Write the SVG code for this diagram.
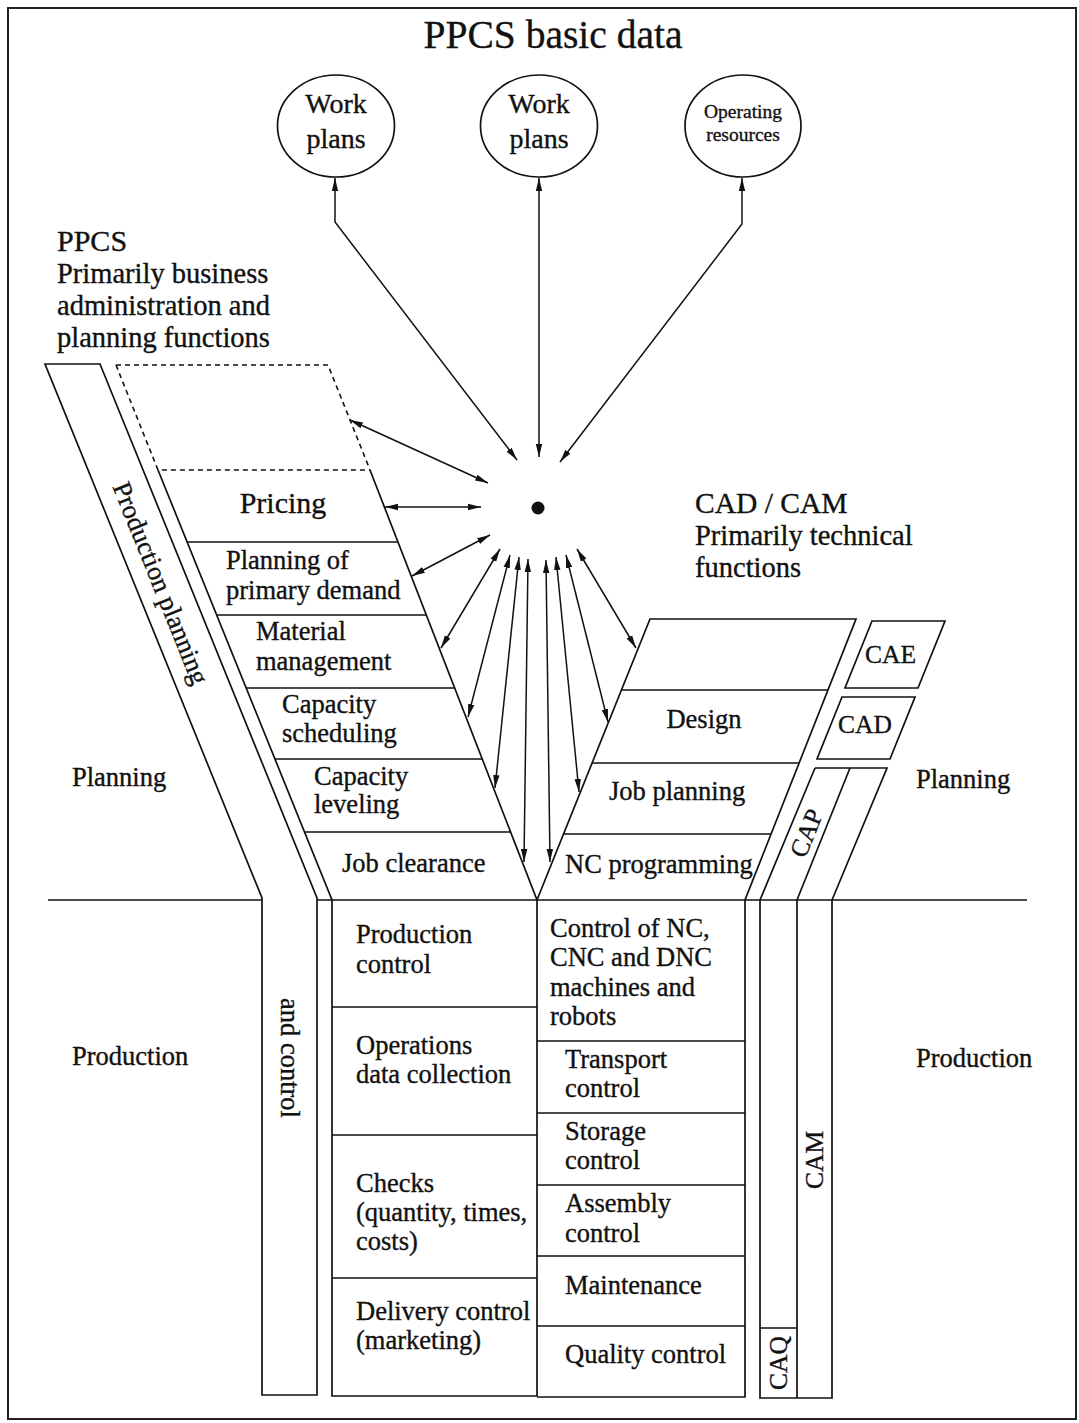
<svg xmlns="http://www.w3.org/2000/svg" width="1079" height="1423" viewBox="0 0 1079 1423">
  <style>
    .ln { fill: none; stroke: #111; stroke-width: 1.7; stroke-linejoin: miter; }
    .dash { fill: none; stroke: #111; stroke-width: 1.6; stroke-dasharray: 5 4; }
    .arr { fill: none; stroke: #111; stroke-width: 1.5; marker-start: url(#ah); marker-end: url(#ah); }
    text { font-family: "Liberation Serif", "Times New Roman", serif; fill: #111; stroke: #111; stroke-width: 0.35; }
    .t { font-size: 26.5px; }
    .h { font-size: 28.5px; }
    .c { text-anchor: middle; }
  </style>
  <defs>
    <marker id="ah" markerUnits="userSpaceOnUse" markerWidth="14" markerHeight="8" refX="13" refY="4" orient="auto-start-reverse">
      <path d="M0,0.8 L13,4 L0,7.2 Z" fill="#111"/>
    </marker>
  </defs>

  <rect x="0" y="0" width="1079" height="1423" fill="#fff"/>
  <!-- outer frame -->
  <rect x="8" y="8" width="1068" height="1411" fill="none" stroke="#222" stroke-width="2"/>

  <!-- headings -->
  <text x="553" y="48" class="c" style="font-size:39.5px">PPCS basic data</text>
  <g id="ppcs-heading">
    <text x="57" y="251" style="font-size:30px">PPCS</text>
    <text x="57" y="283" class="h">Primarily business</text>
    <text x="57" y="315" class="h">administration and</text>
    <text x="57" y="347" class="h">planning functions</text>
  </g>
  <g id="cadcam-heading">
    <text x="695" y="513" style="font-size:29.5px">CAD / CAM</text>
    <text x="695" y="545" class="h">Primarily technical</text>
    <text x="695" y="577" class="h">functions</text>
  </g>

  <!-- basic data stores -->
  <g id="work-plans-1">
    <ellipse cx="336" cy="126" rx="58.5" ry="51" class="ln"/>
    <text x="336" y="113" class="c" style="font-size:28px">Work</text>
    <text x="336" y="148" class="c" style="font-size:28px">plans</text>
  </g>
  <g id="work-plans-2">
    <ellipse cx="539" cy="126" rx="58.5" ry="51" class="ln"/>
    <text x="539" y="113" class="c" style="font-size:28px">Work</text>
    <text x="539" y="148" class="c" style="font-size:28px">plans</text>
  </g>
  <g id="operating-resources">
    <ellipse cx="743" cy="126" rx="58" ry="51" class="ln"/>
    <text x="743" y="118" class="c" style="font-size:19.5px">Operating</text>
    <text x="743" y="141" class="c" style="font-size:19.5px">resources</text>
  </g>

  <!-- central hub -->
  <g id="hub">
    <circle cx="538" cy="508" r="6.5" fill="#111"/>
  </g>

  <!-- phase labels -->
  <g id="phase-labels">
    <text x="72" y="786" class="t">Planning</text>
    <text x="72" y="1065" class="t">Production</text>
    <text x="916" y="788" class="t">Planning</text>
    <text x="916" y="1067" class="t">Production</text>
  </g>

  <!-- production / planning boundary -->
  <g id="boundary">
    <path class="ln" d="M48,900 L262,900 M317,900 L1027,900"/>
  </g>

  <!-- PPCS strip: production planning and control -->
  <g id="ppcs-strip">
    <path class="ln" d="M45,364 L100,364 L317,898 L317,1395 L262,1395 L262,898 Z"/>
    <text transform="translate(161,583) rotate(68)" y="9" class="t c">Production planning</text>
    <text transform="translate(289.5,1058) rotate(90)" y="9" class="t c">and control</text>
  </g>

  <!-- PPCS planning functions -->
  <g id="ppcs-planning">
    <path class="dash" d="M116,365 L328,365 L370,470 M116,365 L158,470 L370,470"/>
    <path class="ln" d="M158,470 L332,900 L332,1396 L537,1396 L537,900 L370,470"/>
    <path class="ln" d="M187,542 L398,542 M217,615 L426,615 M246,688 L455,688 M275,759 L482,759 M304,832 L511,832"/>
  </g>
  <g id="pricing"><text x="283" y="513" class="c" style="font-size:30px">Pricing</text></g>
  <g id="primary-demand">
    <text x="226" y="569" class="t">Planning of</text>
    <text x="226" y="599" class="t">primary demand</text>
  </g>
  <g id="material-management">
    <text x="256" y="640" class="t">Material</text>
    <text x="256" y="670" class="t">management</text>
  </g>
  <g id="capacity-scheduling">
    <text x="282" y="713" class="t">Capacity</text>
    <text x="282" y="742" class="t">scheduling</text>
  </g>
  <g id="capacity-leveling">
    <text x="314" y="785" class="t">Capacity</text>
    <text x="314" y="813" class="t">leveling</text>
  </g>
  <g id="job-clearance"><text x="342" y="872" class="t">Job clearance</text></g>

  <!-- PPCS production functions -->
  <g id="ppcs-production">
    <path class="ln" d="M332,1007 L537,1007 M332,1135 L537,1135 M332,1278 L537,1278"/>
  </g>
  <g id="production-control">
    <text x="356" y="943" class="t">Production</text>
    <text x="356" y="973" class="t">control</text>
  </g>
  <g id="operations-data">
    <text x="356" y="1054" class="t">Operations</text>
    <text x="356" y="1083" class="t">data collection</text>
  </g>
  <g id="checks">
    <text x="356" y="1192" class="t">Checks</text>
    <text x="356" y="1221" class="t">(quantity, times,</text>
    <text x="356" y="1250" class="t">costs)</text>
  </g>
  <g id="delivery-control">
    <text x="356" y="1320" class="t">Delivery control</text>
    <text x="356" y="1349" class="t">(marketing)</text>
  </g>

  <!-- CAD/CAM planning functions -->
  <g id="cad-planning">
    <path class="ln" d="M537,900 L650,619 L856,619 L745,900 L745,1397 L537,1397"/>
    <path class="ln" d="M621,690 L828,690 M592,763 L799,763 M564,834 L771,834"/>
  </g>
  <g id="design"><text x="704" y="728" class="t c">Design</text></g>
  <g id="job-planning"><text x="609" y="800" class="t">Job planning</text></g>
  <g id="nc-programming"><text x="565" y="873" class="t">NC programming</text></g>

  <!-- CAD/CAM production functions -->
  <g id="cam-production">
    <path class="ln" d="M537,1041 L745,1041 M537,1113 L745,1113 M537,1185 L745,1185 M537,1256 L745,1256 M537,1326 L745,1326"/>
  </g>
  <g id="machine-control">
    <text x="550" y="937" class="t">Control of NC,</text>
    <text x="550" y="966" class="t">CNC and DNC</text>
    <text x="550" y="996" class="t">machines and</text>
    <text x="550" y="1025" class="t">robots</text>
  </g>
  <g id="transport-control">
    <text x="565" y="1068" class="t">Transport</text>
    <text x="565" y="1097" class="t">control</text>
  </g>
  <g id="storage-control">
    <text x="565" y="1140" class="t">Storage</text>
    <text x="565" y="1169" class="t">control</text>
  </g>
  <g id="assembly-control">
    <text x="565" y="1212" class="t">Assembly</text>
    <text x="565" y="1242" class="t">control</text>
  </g>
  <g id="maintenance"><text x="565" y="1294" class="t">Maintenance</text></g>
  <g id="quality-control"><text x="565" y="1363" class="t">Quality control</text></g>

  <!-- CA* system bands -->
  <g id="cae">
    <path class="ln" d="M872,621 L945,621 L918,688 L845,688 Z"/>
    <text x="865" y="663" style="font-size:25.5px">CAE</text>
  </g>
  <g id="cad">
    <path class="ln" d="M842,697 L915,697 L890,759 L817,759 Z"/>
    <text x="838" y="733" style="font-size:25.5px">CAD</text>
  </g>
  <g id="cap">
    <path class="ln" d="M815,768 L887,768 L832,900 M815,768 L760,900 M850,768 L797,900"/>
    <text transform="translate(806,833) rotate(-68)" y="9" class="c" style="font-size:25.5px">CAP</text>
  </g>
  <g id="cam">
    <path class="ln" d="M760,900 L760,1398 L832,1398 L832,900 M797,900 L797,1398"/>
    <text transform="translate(814,1160) rotate(-90)" y="9" class="c" style="font-size:25.5px">CAM</text>
  </g>
  <g id="caq">
    <path class="ln" d="M760,1328 L797,1328"/>
    <text transform="translate(778,1363) rotate(-90)" y="9" class="c" style="font-size:25.5px">CAQ</text>
  </g>

  <!-- data flows to and from the hub -->
  <g id="connectors">
    <polyline class="arr" points="335,178 335,222 517,460"/>
    <line class="arr" x1="539" y1="178" x2="539" y2="457"/>
    <polyline class="arr" points="742,178 742,224 560,462"/>
    <line class="arr" x1="350" y1="420" x2="488" y2="483"/>
    <line class="arr" x1="385" y1="507" x2="481" y2="507"/>
    <line class="arr" x1="412" y1="576" x2="490" y2="535"/>
    <line class="arr" x1="441" y1="648" x2="500" y2="549"/>
    <line class="arr" x1="468" y1="717" x2="510" y2="555"/>
    <line class="arr" x1="495" y1="788" x2="519" y2="557"/>
    <line class="arr" x1="524" y1="862" x2="528" y2="559"/>
    <line class="arr" x1="550" y1="862" x2="546" y2="560"/>
    <line class="arr" x1="579" y1="792" x2="556" y2="557"/>
    <line class="arr" x1="608" y1="722" x2="566" y2="555"/>
    <line class="arr" x1="636" y1="648" x2="577" y2="549"/>
  </g>
</svg>
